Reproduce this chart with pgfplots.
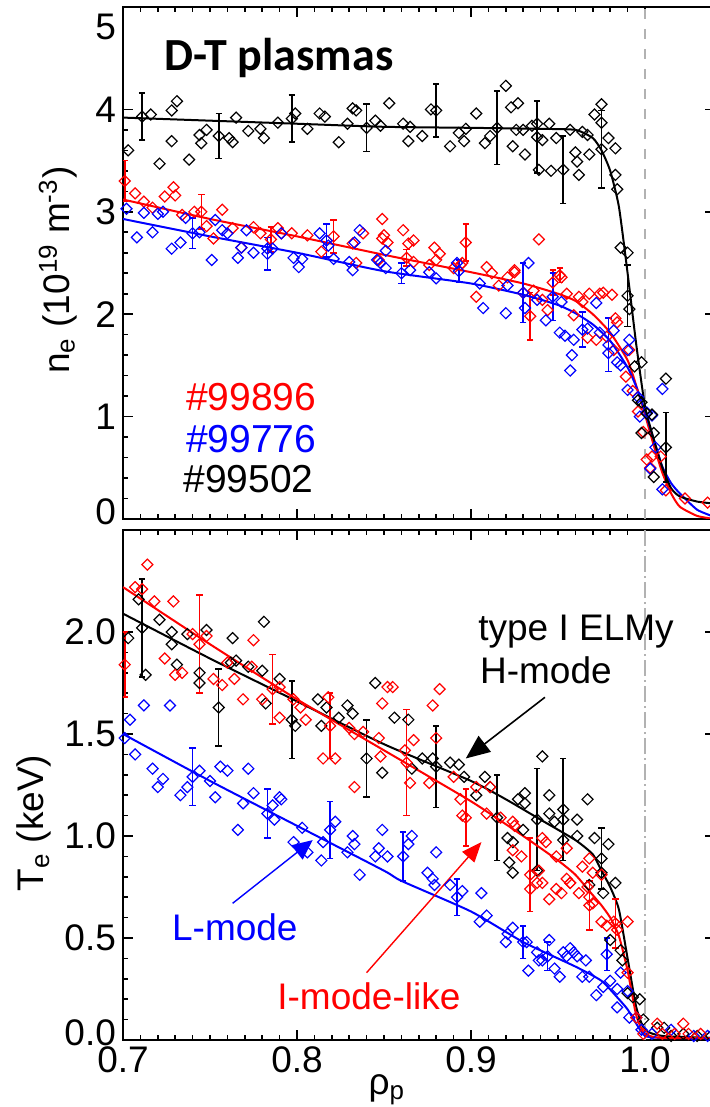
\documentclass[border=0pt]{standalone}
\usepackage{fontspec}
\setmainfont{Liberation Sans}
\newfontfamily\calibri{Carlito}
\usepackage{pgfplots}
\usepackage{pgfplotstable}
\pgfplotsset{compat=1.18}
\usetikzlibrary{arrows.meta}

\definecolor{myred}{RGB}{255,0,0}
\definecolor{myblue}{RGB}{0,0,255}
\definecolor{vgray}{RGB}{178,178,178}

% ---------------- top panel (n_e) ----------------
\pgfplotstableread{
x y
0.703 3.60
0.716 3.95
0.721 3.47
0.728 3.99
0.728 3.69
0.731 4.08
0.738 3.51
0.744 3.75
0.745 3.67
0.748 3.80
0.761 3.72
0.763 3.68
0.765 3.92
0.772 3.79
0.779 3.81
0.781 3.72
0.789 3.87
0.799 3.96
0.806 3.81
0.813 3.96
0.816 3.93
0.824 3.68
0.829 3.86
0.832 4.01
0.834 3.99
0.845 3.89
0.848 3.84
0.853 4.06
0.861 3.86
0.864 3.69
0.865 3.83
0.872 3.74
0.877 4.00
0.888 3.64
0.893 3.77
0.896 3.69
0.897 3.81
0.903 3.96
0.908 3.67
0.911 3.74
0.920 4.23
0.923 4.02
0.924 3.64
0.926 3.80
0.927 4.06
0.930 3.80
0.931 3.56
0.935 3.84
0.938 3.86
0.939 3.41
0.941 3.70
0.945 3.86
0.946 3.40
0.949 3.72
0.957 3.80
0.960 3.58
0.961 3.49
0.962 3.36
0.964 3.78
0.967 3.75
0.968 3.56
0.971 3.95
0.975 4.05
0.975 3.87
0.979 3.72
0.983 3.62
0.983 3.36
0.984 3.22
0.986 2.65
0.990 2.60
0.991 2.05
0.994 1.49
0.998 1.53
0.996 1.16
0.998 1.14
1.001 1.03
1.004 1.02
0.998 0.84
1.005 0.84
1.012 1.37
1.005 0.41
}\topblack
\pgfplotstableread{
x y e
0.711 3.93 0.23
0.755 3.74 0.22
0.797 3.91 0.23
0.840 3.82 0.23
0.880 3.99 0.26
0.915 3.82 0.36
0.938 3.73 0.35
0.953 3.41 0.33
0.975 3.61 0.38
0.990 2.18 0.30
1.012 0.70 0.34
}\topblackeb
\pgfplotstableread{
x y
0.700 3.92
0.750 3.89
0.800 3.86
0.850 3.83
0.900 3.82
0.940 3.81
0.960 3.80
0.970 3.72
0.975 3.60
0.980 3.40
0.985 3.05
0.990 2.40
0.995 1.70
1.000 1.10
1.005 0.78
1.010 0.50
1.015 0.30
1.020 0.22
1.030 0.17
1.040 0.15
}\topblackfit

\pgfplotstableread{
x y
0.707 3.18
0.712 3.10
0.717 3.04
0.724 3.15
0.729 3.24
0.730 3.16
0.734 2.97
0.741 3.00
0.748 2.86
0.752 2.74
0.757 3.02
0.763 2.84
0.768 2.65
0.775 2.85
0.779 2.79
0.789 2.84
0.791 2.79
0.797 2.79
0.806 2.77
0.814 2.61
0.832 2.69
0.834 2.50
0.838 2.79
0.847 2.53
0.849 2.93
0.850 2.77
0.852 2.70
0.849 2.74
0.861 2.82
0.864 2.69
0.867 2.72
0.867 2.51
0.876 2.48
0.879 2.65
0.880 2.53
0.882 2.59
0.890 2.45
0.894 2.48
0.895 2.50
0.903 2.17
0.909 2.46
0.912 2.40
0.916 2.28
0.921 2.36
0.925 2.43
0.925 2.41
0.930 2.21
0.936 2.23
0.939 2.73
0.941 2.14
0.944 2.04
0.952 2.36
0.955 2.20
0.959 1.99
0.962 2.17
0.964 2.12
0.967 1.77
0.968 2.20
0.972 1.75
0.974 2.20
0.976 2.21
0.978 1.78
0.981 2.19
0.982 1.65
0.983 1.96
0.984 1.92
0.989 1.39
0.991 1.65
0.993 1.25
0.996 1.05
0.999 0.85
1.001 0.58
1.003 0.50
1.004 0.61
1.009 0.61
1.012 0.28
1.023 0.20
1.036 0.16
}\topred
\pgfplotstableread{
x y e
0.701 3.30 0.20
0.745 3.00 0.17
0.785 2.73 0.12
0.821 2.76 0.16
0.863 2.55 0.08
0.897 2.70 0.18
0.934 1.98 0.23
0.947 2.31 0.12
0.951 2.38 0.07
}\topredeb
\pgfplotstableread{
x y
0.700 3.12
0.750 2.93
0.800 2.76
0.850 2.58
0.900 2.41
0.930 2.30
0.950 2.20
0.960 2.13
0.970 2.00
0.980 1.82
0.990 1.55
0.995 1.30
1.000 1.02
1.005 0.72
1.010 0.45
1.015 0.25
1.020 0.12
1.030 0.03
1.040 0.00
}\topredfit

\pgfplotstableread{
x y
0.702 3.03
0.708 2.75
0.712 2.99
0.717 2.80
0.720 2.98
0.723 3.00
0.728 2.64
0.733 2.70
0.736 2.94
0.744 2.80
0.751 2.53
0.753 2.92
0.757 2.82
0.760 2.79
0.766 2.55
0.768 2.65
0.771 2.82
0.775 2.60
0.783 2.64
0.786 2.64
0.791 2.79
0.798 2.55
0.801 2.46
0.803 2.54
0.813 2.79
0.818 2.67
0.821 2.54
0.830 2.51
0.832 2.43
0.833 2.70
0.836 2.82
0.846 2.53
0.848 2.50
0.851 2.62
0.851 2.45
0.865 2.43
0.876 2.41
0.880 2.35
0.892 2.50
0.905 2.30
0.907 2.06
0.920 2.01
0.921 2.28
0.931 2.06
0.933 2.50
0.938 2.14
0.943 1.94
0.952 2.12
0.951 1.82
0.954 1.79
0.959 1.75
0.958 1.60
0.957 1.45
0.967 1.86
0.972 2.11
0.974 1.82
0.979 1.62
0.982 1.84
0.984 1.53
0.986 1.50
0.990 1.65
0.991 1.75
0.990 1.26
0.996 1.19
0.997 1.00
1.001 1.04
1.004 1.01
1.003 0.49
1.006 0.70
1.010 0.29
1.010 1.27
}\topblue
\pgfplotstableread{
x y e
0.740 2.79 0.15
0.783 2.59 0.16
0.817 2.72 0.16
0.860 2.40 0.10
0.893 2.42 0.11
0.930 2.21 0.29
0.947 2.17 0.23
0.964 1.85 0.17
0.979 1.70 0.26
}\topblueeb
\pgfplotstableread{
x y
0.700 2.93
0.750 2.76
0.800 2.60
0.850 2.42
0.900 2.30
0.930 2.19
0.950 2.09
0.960 2.01
0.970 1.90
0.980 1.74
0.990 1.48
0.995 1.29
1.000 1.05
1.005 0.78
1.010 0.51
1.015 0.35
1.020 0.25
1.030 0.09
1.040 0.02
}\topbluefit

% ---------------- bottom panel (T_e) ----------------
\pgfplotstableread{
x y
0.703 1.97
0.709 2.16
0.713 1.79
0.721 2.06
0.728 2.00
0.728 1.94
0.731 1.84
0.737 1.99
0.748 2.01
0.744 1.80
0.744 1.75
0.763 1.97
0.762 1.85
0.765 1.86
0.772 1.83
0.780 1.81
0.781 2.05
0.782 1.65
0.790 1.77
0.799 1.54
0.812 1.67
0.814 1.54
0.817 1.63
0.824 1.58
0.829 1.64
0.832 1.60
0.845 1.75
0.849 1.31
0.856 1.58
0.864 1.57
0.866 1.33
0.872 1.38
0.878 1.38
0.888 1.36
0.893 1.35
0.896 1.29
0.903 1.20
0.908 1.29
0.911 1.24
0.921 0.99
0.924 0.97
0.922 0.87
0.924 0.82
0.927 1.18
0.931 1.21
0.931 1.16
0.930 1.03
0.938 0.83
0.941 1.39
0.945 1.20
0.945 1.11
0.948 1.07
0.953 1.08
0.961 1.08
0.961 1.00
0.953 0.98
0.967 1.18
0.971 0.99
0.979 0.96
0.975 0.82
0.976 0.72
0.983 0.77
0.968 0.76
0.980 0.49
0.986 0.44
0.987 0.39
0.990 0.23
0.993 0.21
0.997 0.20
0.999 0.10
1.007 0.06
1.011 0.06
1.015 0.02
1.022 0.03
1.030 0.02
1.038 0.02
}\botblack
\pgfplotstableread{
x y e
0.711 2.02 0.24
0.755 1.63 0.19
0.797 1.57 0.19
0.840 1.38 0.19
0.880 1.34 0.20
0.915 1.09 0.21
0.938 1.08 0.25
0.953 1.13 0.25
0.975 0.89 0.15
}\botblackeb
\pgfplotstableread{
x y
0.700 2.09
0.750 1.87
0.800 1.66
0.850 1.45
0.900 1.27
0.920 1.18
0.940 1.08
0.960 0.98
0.970 0.91
0.975 0.83
0.980 0.75
0.985 0.64
0.990 0.40
0.995 0.16
1.000 0.05
1.010 0.02
1.040 0.01
}\botblackfit

\pgfplotstableread{
x y
0.707 2.22
0.711 2.21
0.714 2.33
0.718 2.15
0.724 1.87
0.729 2.15
0.730 1.79
0.734 1.80
0.740 1.99
0.748 1.98
0.752 1.77
0.757 1.74
0.760 1.85
0.764 1.77
0.769 1.67
0.774 1.83
0.775 1.96
0.780 1.67
0.790 1.73
0.790 1.58
0.798 1.67
0.802 1.63
0.805 1.57
0.815 1.38
0.822 1.38
0.818 1.68
0.830 1.53
0.833 1.50
0.838 1.51
0.833 1.24
0.847 1.48
0.848 1.39
0.849 1.65
0.852 1.73
0.855 1.73
0.878 1.64
0.882 1.72
0.862 1.42
0.865 1.26
0.867 1.47
0.876 1.26
0.880 1.48
0.890 1.29
0.894 1.18
0.895 1.10
0.903 1.24
0.909 1.11
0.911 1.24
0.917 1.09
0.924 1.07
0.925 1.05
0.924 0.93
0.929 0.90
0.938 0.77
0.939 0.83
0.941 0.99
0.943 0.97
0.949 0.90
0.955 0.94
0.955 0.79
0.957 0.77
0.964 0.85
0.968 0.89
0.970 0.82
0.975 0.81
0.934 0.74
0.941 0.77
0.945 0.69
0.949 0.74
0.952 0.72
0.957 0.77
0.962 0.72
0.968 0.70
0.970 0.67
0.967 0.75
0.975 0.58
0.978 0.56
0.982 0.58
0.984 0.54
0.990 0.58
0.990 0.33
0.995 0.11
1.007 0.08
1.022 0.08
0.999 0.03
1.010 0.03
1.017 0.03
1.025 0.03
1.032 0.03
}\botred
\pgfplotstableread{
x y e
0.701 1.84 0.16
0.744 1.94 0.24
0.786 1.72 0.17
0.819 1.54 0.16
0.863 1.36 0.26
0.897 1.09 0.14
0.934 0.81 0.18
0.968 0.66 0.12
0.983 0.57 0.12
}\botredeb
\pgfplotstableread{
x y
0.700 2.22
0.750 1.94
0.800 1.67
0.850 1.42
0.900 1.17
0.930 1.00
0.950 0.88
0.960 0.81
0.970 0.71
0.975 0.66
0.980 0.60
0.985 0.51
0.990 0.34
0.995 0.12
1.000 0.03
1.010 0.01
1.040 0.01
}\botredfit

\pgfplotstableread{
x y
0.704 1.57
0.701 1.48
0.712 1.64
0.727 1.64
0.707 1.40
0.717 1.33
0.723 1.28
0.720 1.24
0.737 1.24
0.733 1.20
0.744 1.32
0.750 1.27
0.756 1.34
0.760 1.32
0.772 1.33
0.753 1.19
0.775 1.21
0.790 1.19
0.769 1.16
0.766 1.03
0.786 1.15
0.787 1.08
0.791 1.18
0.798 0.97
0.803 1.04
0.806 0.92
0.814 0.88
0.815 0.97
0.822 1.07
0.829 0.92
0.832 1.00
0.833 0.96
0.836 0.81
0.845 0.90
0.847 0.94
0.849 1.03
0.852 0.90
0.864 0.96
0.866 1.00
0.880 0.92
0.875 0.82
0.878 0.79
0.879 0.76
0.888 0.76
0.895 0.73
0.906 0.72
0.905 0.58
0.909 0.61
0.920 0.48
0.921 0.52
0.924 0.55
0.933 0.34
0.932 0.48
0.938 0.43
0.939 0.39
0.941 0.39
0.945 0.49
0.948 0.35
0.951 0.31
0.953 0.43
0.955 0.41
0.957 0.45
0.959 0.43
0.961 0.41
0.966 0.39
0.964 0.31
0.968 0.31
0.972 0.22
0.976 0.26
0.980 0.29
0.984 0.25
0.986 0.33
0.984 0.16
0.990 0.24
0.991 0.11
0.995 0.11
0.998 0.05
1.004 0.03
1.015 0.05
1.028 0.02
1.036 0.02
}\botblue
\pgfplotstableread{
x y e
0.740 1.29 0.14
0.783 1.11 0.12
0.819 1.03 0.14
0.861 0.90 0.12
0.892 0.70 0.09
0.930 0.48 0.08
0.944 0.41 0.07
0.978 0.42 0.08
}\botblueeb
\pgfplotstableread{
x y
0.700 1.50
0.750 1.27
0.800 1.05
0.850 0.83
0.860 0.78
0.900 0.63
0.930 0.48
0.960 0.36
0.975 0.29
0.985 0.20
0.990 0.15
0.995 0.08
1.000 0.02
1.010 0.01
1.040 0.01
}\botbluefit

\pgfplotsset{
  base/.style={
    scale only axis, width=295.8pt,
    xmin=0.7, xmax=1.04,
    xtick={0.7,0.8,0.9,1.0}, minor x tick num=9,
    tick align=inside, xtick pos=both, ytick pos=both,
    major tick length=5pt, minor tick length=2.5pt,
    every tick/.style={black, line width=0.8pt},
    axis line style={line width=1pt},
    tick label style={font=\fontsize{18.5}{22}\selectfont},
    label style={font=\fontsize{18.5}{22}\selectfont},
    /pgf/number format/assume math mode=true,
  },
  dia/.style={only marks, mark=square, mark size=1.95pt,
    mark options={solid, rotate=45, line width=0.6pt, fill=none}},
  eb/.style={dia,
    error bars/y dir=both, error bars/y explicit,
    error bars/error mark=-,
    error bars/error mark options={rotate=90, mark size=1.6pt, line width=0.8pt},
    error bars/error bar style={line width=0.8pt, solid}},
  fit/.style={no marks, line width=1pt, smooth, tension=0.35},
}

\begin{document}
\begin{tikzpicture}
% ================= TOP =================
\begin{axis}[base, name=top, at={(0,0)}, anchor=north west,
  height=256pt, ymin=0, ymax=5,
  ytick={0,1,2,3,4}, yticklabels={,1,2,3,4}, minor y tick num=4,
  extra y ticks={5}, extra y tick labels={5},
  extra y tick style={yticklabel style={yshift=-10pt}},
  xticklabels={},
  ylabel={n\textsubscript{e} (10\textsuperscript{19} m\textsuperscript{-3})},
  ylabel style={at={(axis description cs:-0.11,0.486)}, anchor=center},
]
\addplot[vgray, line width=1pt, dash pattern=on 5pt off 5pt] coordinates {(1,0) (1,5)};
\addplot[myred, dia] table {\topred};
\addplot[myred, eb] table[y error=e] {\topredeb};
\addplot[myred, fit] table {\topredfit};
\addplot[myblue, dia] table {\topblue};
\addplot[myblue, eb] table[y error=e] {\topblueeb};
\addplot[myblue, fit] table {\topbluefit};
\addplot[black, dia] table {\topblack};
\addplot[black, eb] table[y error=e] {\topblackeb};
\addplot[black, fit] table {\topblackfit};
\node[anchor=base west, font=\calibri\bfseries\fontsize{23}{27}\selectfont] at (axis cs:0.720,4.38) {D-T plasmas};
\node[anchor=base west, text=myred, font=\fontsize{19.5}{23}\selectfont, inner sep=0pt] at (axis cs:0.736,1.06) {\#99896};
\node[anchor=base west, text=myblue, font=\fontsize{19.5}{23}\selectfont, inner sep=0pt] at (axis cs:0.736,0.65) {\#99776};
\node[anchor=base west, text=black, font=\fontsize{19.5}{23}\selectfont, inner sep=0pt] at (axis cs:0.7345,0.26) {\#99502};
\end{axis}

% ================= BOTTOM =================
\begin{axis}[base, name=bot, at={(0,-261.5pt)}, anchor=north west,
  height=255pt, ymin=0, ymax=2.5,
  ytick={0,0.5,1,1.5,2}, yticklabels={,0.5,1.0,1.5,2.0}, minor y tick num=4,
  xticklabel style={/pgf/number format/.cd, fixed, fixed zerofill, precision=1},
  ylabel={T\textsubscript{e} (keV)},
  ylabel style={at={(axis description cs:-0.15,0.425)}, anchor=center},
  xlabel={ρ\textsubscript{p}},
  xlabel style={at={(axis description cs:0.446,-0.098)}, anchor=center},
]
\addplot[vgray, line width=0.8pt, dash pattern=on 8pt off 2pt on 1pt off 2pt] coordinates {(1,0) (1,2.5)};
\addplot[black, dia] table {\botblack};
\addplot[black, eb] table[y error=e] {\botblackeb};
\addplot[black, fit] table {\botblackfit};
\addplot[myblue, dia] table {\botblue};
\addplot[myblue, eb] table[y error=e] {\botblueeb};
\addplot[myblue, fit] table {\botbluefit};
\addplot[myred, dia] table {\botred};
\addplot[myred, eb] table[y error=e] {\botredeb};
\addplot[myred, fit] table {\botredfit};
\node[anchor=base west, font=\fontsize{18.5}{22}\selectfont, inner sep=0pt] at (axis cs:0.904,1.96) {type I ELMy};
\node[anchor=base west, font=\fontsize{18.5}{22}\selectfont, inner sep=0pt] at (axis cs:0.905,1.75) {H-mode};
\node[anchor=base west, text=myblue, font=\fontsize{18.5}{22}\selectfont, inner sep=0pt] at (axis cs:0.728,0.49) {L-mode};
\node[anchor=base west, text=myred, font=\fontsize{18.5}{22}\selectfont, inner sep=0pt] at (axis cs:0.7885,0.15) {I-mode-like};
\draw[black, line width=0.8pt, -{Triangle[length=12pt,width=10pt]}] (axis cs:0.9425,1.68) -- (axis cs:0.897,1.38);
\draw[myblue, line width=0.7pt, -{Triangle[length=10pt,width=9pt]}] (axis cs:0.763,0.67) -- (axis cs:0.809,0.98);
\draw[myred, line width=0.7pt, -{Triangle[length=10pt,width=8pt]}] (axis cs:0.840,0.33) -- (axis cs:0.906,0.97);
\end{axis}
% zero tick labels, nudged off the corners as in the reference
\node[anchor=east, font=\fontsize{18.5}{22}\selectfont] at ([yshift=3.5pt]top.south west) {0};
\node[anchor=east, font=\fontsize{18.5}{22}\selectfont] at ([yshift=3.5pt]bot.south west) {0.0};
\pgfresetboundingbox
\useasboundingbox (-61.5pt,3.5pt) rectangle (293.5pt,-550pt);
\end{tikzpicture}
\end{document}
